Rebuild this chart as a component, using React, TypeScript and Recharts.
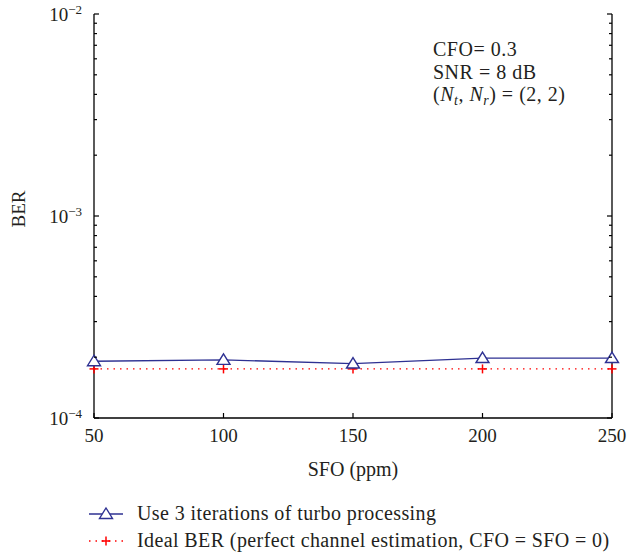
import { LineChart, Line, XAxis, YAxis, Legend, Customized } from "recharts";

const sfo = [50, 100, 150, 200, 250];
const berTurbo = [1.91e-4, 1.94e-4, 1.86e-4, 1.98e-4, 1.98e-4];
const berIdeal = [1.75e-4, 1.75e-4, 1.75e-4, 1.75e-4, 1.75e-4];
const xTicks = [50, 100, 150, 200, 250];
const yTicks = [
  1e-4, 2e-4, 3e-4, 4e-4, 5e-4, 6e-4, 7e-4, 8e-4, 9e-4,
  1e-3, 2e-3, 3e-3, 4e-3, 5e-3, 6e-3, 7e-3, 8e-3, 9e-3, 1e-2,
];

const NAVY = "#2e3192";
const RED = "#ff0000";
const INK = "#231f20";
const FONT = "Liberation Serif";

const data = sfo.map((s, i) => ({ sfo: s, turbo: berTurbo[i], ideal: berIdeal[i] }));

const isDecade = (v: number) => {
  const e = Math.log10(v);
  return Math.abs(e - Math.round(e)) < 1e-6;
};

const LeftTick = (props: any) => {
  const { x, y, payload } = props;
  const major = isDecade(payload.value);
  const e = Math.round(Math.log10(payload.value));
  return (
    <g>
      <line x1={x} x2={x + (major ? 5 : 3)} y1={y} y2={y} stroke="#000" strokeWidth={1.2} />
      {major && (
        <text x={x - 12} y={y + 6.5} textAnchor="end" fontSize={19} fontFamily={FONT} fill={INK}>
          10
          <tspan dy={-7} fontSize={13}>
            {"\u2212" + Math.abs(e)}
          </tspan>
        </text>
      )}
    </g>
  );
};

const RightTick = (props: any) => {
  const { x, y, payload } = props;
  const major = isDecade(payload.value);
  return <line x1={x} x2={x - (major ? 5 : 3)} y1={y} y2={y} stroke="#000" strokeWidth={1.2} />;
};

const BottomTick = (props: any) => {
  const { x, y, payload } = props;
  return (
    <g>
      <line x1={x} x2={x} y1={y} y2={y - 5} stroke="#000" strokeWidth={1.2} />
      <text x={x} y={y + 24} textAnchor="middle" fontSize={19} fontFamily={FONT} fill={INK}>
        {payload.value}
      </text>
    </g>
  );
};

const TopTick = (props: any) => {
  const { x, y } = props;
  return <line x1={x} x2={x} y1={y} y2={y + 5} stroke="#000" strokeWidth={1.2} />;
};

const Triangle = ({ cx, cy }: { cx: number; cy: number }) => (
  <path
    d={`M${cx},${cy - 6} L${cx + 6.5},${cy + 4.5} L${cx - 6.5},${cy + 4.5} Z`}
    fill="#fff"
    stroke={NAVY}
    strokeWidth={1.4}
  />
);

const Plus = ({ cx, cy }: { cx: number; cy: number }) => (
  <g stroke={RED} strokeWidth={1.5}>
    <line x1={cx - 4.5} x2={cx + 4.5} y1={cy} y2={cy} />
    <line x1={cx} x2={cx} y1={cy - 4.5} y2={cy + 4.5} />
  </g>
);

const LegendContent = () => (
  <div
    style={{
      height: 54,
      fontFamily: FONT,
      fontSize: 20,
      letterSpacing: 0.4,
      color: INK,
      paddingLeft: 81,
      whiteSpace: "nowrap",
    }}
  >
    <div style={{ height: 27, display: "flex", alignItems: "center" }}>
      <svg width={34} height={20} style={{ marginRight: 14 }}>
        <line x1={0} x2={34} y1={10} y2={10} stroke={NAVY} strokeWidth={1.3} />
        <Triangle cx={17} cy={10} />
      </svg>
      <span>Use 3 iterations of turbo processing</span>
    </div>
    <div style={{ height: 27, display: "flex", alignItems: "center" }}>
      <svg width={34} height={20} style={{ marginRight: 14 }}>
        <line x1={0} x2={34} y1={10} y2={10} stroke={RED} strokeWidth={1.3} strokeDasharray="1.5 5" />
        <Plus cx={17} cy={10} />
      </svg>
      <span>Ideal BER (perfect channel estimation, CFO = SFO = 0)</span>
    </div>
  </div>
);

const Notes = () => (
  <g fontFamily={FONT} fill={INK}>
    <g fontSize={20} letterSpacing={0.5}>
      <text x={425} y={48}>CFO= 0.3</text>
      <text x={425} y={71}>SNR = 8 dB</text>
      <text x={425} y={93}>
        (<tspan fontStyle="italic">N</tspan>
        <tspan fontStyle="italic" fontSize={14} dy={4}>t</tspan>
        <tspan dy={-4}>, </tspan>
        <tspan fontStyle="italic">N</tspan>
        <tspan fontStyle="italic" fontSize={14} dy={4}>r</tspan>
        <tspan dy={-4}>) = (2, 2)</tspan>
      </text>
    </g>
    <text
      x={10}
      y={201}
      fontSize={19}
      transform="rotate(-90 10 201)"
      textAnchor="middle"
      dominantBaseline="central"
    >
      BER
    </text>
    <text x={345} y={468} fontSize={20} textAnchor="middle">
      SFO (ppm)
    </text>
  </g>
);

export default function App() {
  return (
    <div style={{ width: 621, height: 546, padding: 8, fontFamily: FONT }}>
      <style>{"html,body{margin:0;overflow:hidden} .recharts-wrapper,.recharts-surface{overflow:visible !important}"}</style>
      <LineChart width={621} height={546} data={data} margin={{ top: 6, right: 0, bottom: 0, left: 0 }}>
        <XAxis
          xAxisId="b"
          dataKey="sfo"
          type="number"
          domain={[50, 250]}
          ticks={xTicks}
          interval={0}
          height={82}
          tickSize={0}
          tickMargin={0}
          tick={BottomTick}
          axisLine={{ stroke: "#000", strokeWidth: 1.3 }}
        />
        <XAxis
          xAxisId="t"
          orientation="top"
          dataKey="sfo"
          type="number"
          domain={[50, 250]}
          ticks={xTicks}
          interval={0}
          height={0}
          tickSize={0}
          tickMargin={0}
          tick={TopTick}
          axisLine={{ stroke: "#000", strokeWidth: 1.3 }}
        />
        <YAxis
          yAxisId="l"
          type="number"
          scale="log"
          domain={[1e-4, 1e-2]}
          allowDataOverflow
          ticks={yTicks}
          interval={0}
          width={86}
          tickSize={0}
          tickMargin={0}
          tick={LeftTick}
          axisLine={{ stroke: "#000", strokeWidth: 1.3 }}
        />
        <YAxis
          yAxisId="r"
          orientation="right"
          type="number"
          scale="log"
          domain={[1e-4, 1e-2]}
          allowDataOverflow
          ticks={yTicks}
          interval={0}
          width={17}
          tickSize={0}
          tickMargin={0}
          tick={RightTick}
          axisLine={{ stroke: "#000", strokeWidth: 1.3 }}
        />
        <Line
          xAxisId="b"
          yAxisId="l"
          dataKey="ideal"
          stroke={RED}
          strokeWidth={1.3}
          strokeDasharray="1.5 5"
          dot={(p: any) => <Plus key={`i${p.index}`} cx={p.cx} cy={p.cy} />}
          activeDot={false}
          isAnimationActive={false}
        />
        <Line
          xAxisId="b"
          yAxisId="l"
          dataKey="turbo"
          stroke={NAVY}
          strokeWidth={1.3}
          dot={(p: any) => <Triangle key={`t${p.index}`} cx={p.cx} cy={p.cy} />}
          activeDot={false}
          isAnimationActive={false}
        />
        <Legend verticalAlign="bottom" content={LegendContent} wrapperStyle={{ left: 0, width: 621 }} />
        <Customized component={Notes} />
      </LineChart>
    </div>
  );
}
